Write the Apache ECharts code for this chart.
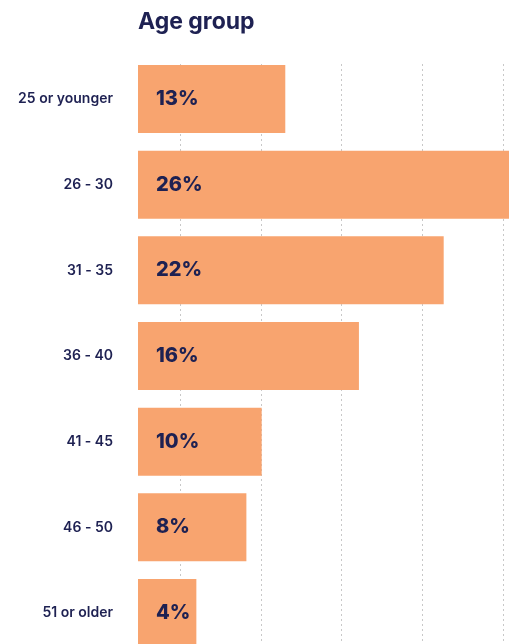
<!DOCTYPE html>
<html>
<head>
<meta charset="utf-8">
<script src="https://cdn.jsdelivr.net/npm/echarts@6/dist/echarts.min.js"></script>
<style>
html,body{margin:0;padding:0;background:#fff;}
#c{width:509px;height:644px;}
</style>
</head>
<body>
<div id="c"></div>
<script>
const categories = ['25 or younger', '26 - 30', '31 - 35', '36 - 40', '41 - 45', '46 - 50', '51 or older'];
const labelPct = [13, 26, 22, 16, 10, 8, 4];
// bar lengths as drawn in the picture (same % units)
const barValues = [10.6, 26.7, 22, 15.9, 8.9, 7.8, 4.2];
const gridTicks = [0, 1, 2, 3, 4];

const navy = '#1E2152';
const chart = echarts.init(document.getElementById('c'));
chart.setOption({
  animation: false,
  title: {
    text: 'Age group',
    left: 133, top: 6,
    textStyle: { fontFamily: 'Inter', fontWeight: 700, fontSize: 23, color: navy }
  },
  grid: [
    { left: 138, right: 0, top: 99, bottom: 31 },
    { left: 180, right: 6, top: 64, bottom: 0 }
  ],
  xAxis: [
    { type: 'value', gridIndex: 0, min: 0, max: 26.7, show: false },
    { type: 'value', gridIndex: 1, min: gridTicks[0], max: gridTicks[gridTicks.length - 1], interval: 1,
      axisLine: { show: false }, axisTick: { show: false }, axisLabel: { show: false },
      splitLine: { show: true, showMinLine: true, showMaxLine: true, lineStyle: { color: '#c8c8c8', type: [2, 3], width: 1 } } }
  ],
  yAxis: [
    { type: 'category', gridIndex: 0, data: categories, inverse: true, boundaryGap: false,
      axisLine: { show: false }, axisTick: { show: false }, splitLine: { show: false },
      axisLabel: { margin: 25, fontFamily: 'Inter', fontWeight: 600, fontSize: 14, color: navy } },
    { type: 'category', gridIndex: 1, data: categories, show: false }
  ],
  series: [{
    type: 'bar',
    xAxisIndex: 0, yAxisIndex: 0,
    data: barValues,
    barWidth: 68,
    clip: false,
    itemStyle: { color: '#F8A46F' },
    label: {
      show: true, position: 'insideLeft', distance: 18,
      formatter: p => labelPct[p.dataIndex] + '%',
      fontFamily: 'Inter', fontWeight: 800, fontSize: 20, color: navy
    }
  }]
});
</script>
</body>
</html>
